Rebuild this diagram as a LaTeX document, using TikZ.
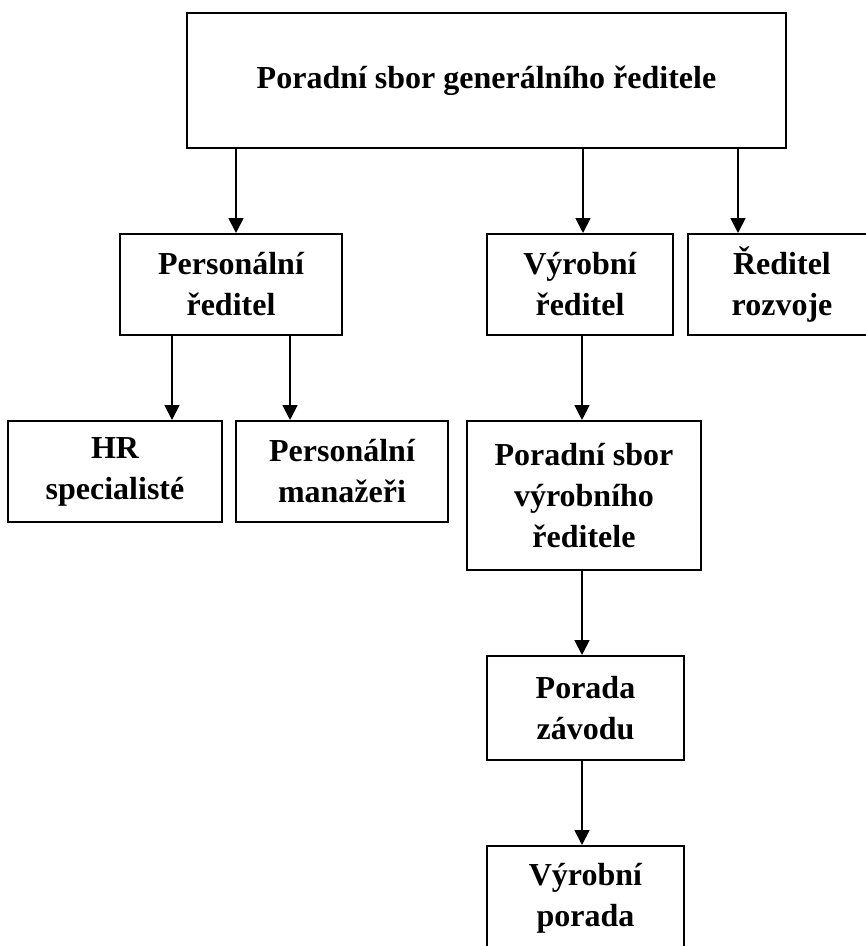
\documentclass[tikz,border=0pt]{standalone}
\usepackage{fontspec}
\setmainfont{Liberation Serif}
\usetikzlibrary{arrows.meta}
\begin{document}
\begin{tikzpicture}[x=1pt,y=-1pt,
  box/.style={draw=black, line width=2pt, align=center, inner sep=0pt,
    font=\fontsize{32}{41}\selectfont\bfseries},
  arr/.style={draw=black, line width=1.8pt, -{Triangle[width=15pt,length=15pt]}}]
\clip (0,0) rectangle (866,946);
\fill[white] (0,0) rectangle (866,946);
% boxes
\node[box, minimum width=599pt, minimum height=135pt] (top) at (486.5,80.5) {Poradní sbor generálního ředitele};
\node[box, minimum width=222pt, minimum height=101pt] (pers) at (231,284.5) {Personální\\ředitel};
\node[box, minimum width=186pt, minimum height=101pt] (vyr) at (580,284.5) {Výrobní\\ředitel};
\node[box, minimum width=188pt, minimum height=101pt] (rozv) at (782,284.5) {Ředitel\\rozvoje};
\node[box, minimum width=214pt, minimum height=101pt] (hr) at (115,471.5) {HR\\specialisté};
\node[box, minimum width=212pt, minimum height=101pt] (man) at (342,471.5) {Personální\\manažeři};
\node[box, minimum width=234pt, minimum height=149pt] (psv) at (584,495.5) {Poradní sbor\\výrobního\\ředitele};
\node[box, minimum width=197pt, minimum height=104pt] (zav) at (585.5,708) {Porada\\závodu};
\node[box, minimum width=197pt, minimum height=104pt] (vp) at (585.5,898) {Výrobní\\porada};
% connector x positions
\coordinate (xa) at (236,0);
\coordinate (xb) at (583,0);
\coordinate (xc) at (738,0);
\coordinate (xd) at (172,0);
\coordinate (xe) at (290,0);
\coordinate (xf) at (582,0);
% connectors
\draw[arr] (top.south -| xa) -- (pers.north -| xa);
\draw[arr] (top.south -| xb) -- (vyr.north -| xb);
\draw[arr] (top.south -| xc) -- (rozv.north -| xc);
\draw[arr] (pers.south -| xd) -- (hr.north -| xd);
\draw[arr] (pers.south -| xe) -- (man.north -| xe);
\draw[arr] (vyr.south -| xf) -- (psv.north -| xf);
\draw[arr] (psv.south -| xf) -- (zav.north -| xf);
\draw[arr] (zav.south -| xf) -- (vp.north -| xf);
\end{tikzpicture}
\end{document}
